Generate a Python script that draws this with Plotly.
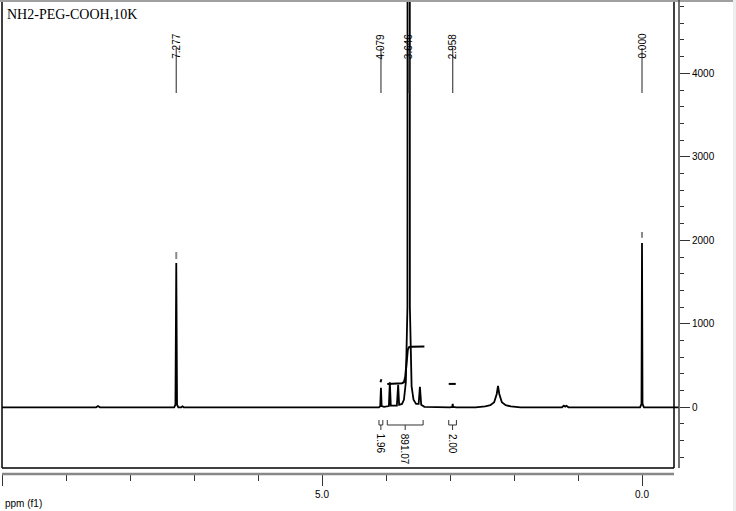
import plotly.graph_objects as go

# ---------------- data ----------------
title_text = "NH2-PEG-COOH,10K"

spec_ppm = [10.0, 8.53, 8.50, 8.47, 7.31, 7.29, 7.277, 7.265, 7.245, 7.20, 7.18, 7.16,
            4.11, 4.09, 4.079, 4.068, 4.03, 3.955, 3.94, 3.925, 3.83, 3.81, 3.795,
            3.75, 3.72, 3.69, 3.665, 3.646, 3.627, 3.60, 3.57, 3.53, 3.49, 3.47, 3.45,
            3.40, 3.00, 2.965, 2.958, 2.951, 2.90, 2.60, 2.45, 2.37, 2.31, 2.27, 2.25,
            2.23, 2.19, 2.13, 2.05, 1.90, 1.25, 1.22, 1.20, 1.18, 1.15, 0.03, 0.008,
            0.0, -0.008, -0.03, -0.58]
spec_int = [0, 0, 15, 0, 0, 30, 1728, 30, 0, 0, 12, 0,
            0, 15, 235, 15, 5, 15, 300, 20, 20, 270, 30,
            40, 90, 300, 1200, 60000, 1200, 250, 90, 40, 40, 245, 30,
            5, 0, 5, 40, 5, 0, 0, 10, 25, 60, 160, 255,
            160, 60, 25, 10, 0, 0, 20, 8, 18, 0, 0, 40,
            1967, 40, 0, 0]

peak_labels = [7.277, 4.079, 3.646, 2.958, 0.000]

# peak-pick markers above peaks
pick_ppm = [7.277, 0.000]
pick_low = [1775, 2030]
pick_high = [1860, 2100]

# integral curves
int_curves_x = [[4.085, 4.073],
                [3.98, 3.85, 3.75, 3.72, 3.70, 3.68, 3.66, 3.64, 3.60, 3.40],
                [3.02, 2.91]]
int_curves_y = [[300, 335],
                [280, 283, 288, 300, 360, 520, 690, 720, 725, 728],
                [280, 280]]

# integral regions and values
int_ranges = [(4.11, 4.05), (3.98, 3.42), (3.02, 2.90)]
int_values = ["1.96", "891.07", "2.00"]

x_tickvals = [10, 5, 0]
x_ticktext = ["", "5.0", "0.0"]
y_tickvals = [0, 1000, 2000, 3000, 4000]

# ---------------- figure ----------------
W, H = 736, 511
ML, MR, MT, MB = 2, 57, 0, 37
plot_w = W - ML - MR
plot_h = H - MT - MB

fig = go.Figure()

fig.add_trace(go.Scatter(x=spec_ppm, y=spec_int, mode="lines",
                         line=dict(color="black", width=1.8), hoverinfo="skip"))

ix, iy = [], []
for xs, ys in zip(int_curves_x, int_curves_y):
    ix += xs + [None]
    iy += ys + [None]
fig.add_trace(go.Scatter(x=ix, y=iy, mode="lines",
                         line=dict(color="black", width=2), hoverinfo="skip"))

mx, my = [], []
for p, lo, hi in zip(pick_ppm, pick_low, pick_high):
    mx += [p, p, None]
    my += [lo, hi, None]
fig.add_trace(go.Scatter(x=mx, y=my, mode="lines",
                         line=dict(color="#8a8a8a", width=2), hoverinfo="skip"))

bx, by = [], []
b_top, b_mid, b_bot = -152, -212, -272
for (a, b) in int_ranges:
    c = (a + b) / 2
    bx += [a, a, b, b, None, c, c, None]
    by += [b_top, b_mid, b_mid, b_top, None, b_mid, b_bot, None]
fig.add_trace(go.Scatter(x=bx, y=by, mode="lines",
                         line=dict(color="#333333", width=1), hoverinfo="skip"))

annotations = []
shapes = []


def py(px):
    return 1 - (px - MT) / plot_h


for p in peak_labels:
    annotations.append(dict(x=p, xref="x", y=py(32), yref="paper",
                            text=f"{p:.3f}", showarrow=False, textangle=-90,
                            font=dict(family="Liberation Sans, Arial", size=10, color="black")))
    shapes.append(dict(type="line", xref="x", yref="paper", x0=p, x1=p,
                       y0=py(48), y1=py(93), line=dict(color="#555555", width=1.3)))

for (a, b), v in zip(int_ranges, int_values):
    c = (a + b) / 2
    annotations.append(dict(x=c, xref="x", y=-290, yref="y", yanchor="top",
                            text=v, showarrow=False, textangle=90,
                            font=dict(family="Liberation Sans, Arial", size=10, color="black")))

annotations.append(dict(x=3 / plot_w, xref="paper", y=py(15), yref="paper",
                        xanchor="left", yanchor="middle", text=title_text, showarrow=False,
                        font=dict(family="Liberation Serif, Times New Roman, serif", size=14,
                                  color="black")))
annotations.append(dict(x=(3 - ML) / plot_w, xref="paper", y=py(503),
                        yref="paper", xanchor="left", yanchor="middle", text="ppm (f1)",
                        showarrow=False,
                        font=dict(family="Liberation Sans, Arial", size=10, color="black")))

box_right = (674 - ML) / plot_w
box_bottom = py(468)

shapes += [
    dict(type="line", xref="paper", yref="paper", x0=0, x1=0, y0=box_bottom, y1=1,
         line=dict(color="black", width=1.5)),
    dict(type="line", xref="paper", yref="paper", x0=box_right, x1=box_right,
         y0=box_bottom, y1=1, line=dict(color="black", width=1.5)),
    dict(type="line", xref="paper", yref="paper", x0=0, x1=box_right,
         y0=box_bottom, y1=box_bottom, line=dict(color="black", width=1.5)),
    dict(type="line", xref="paper", yref="paper", x0=-ML / plot_w, x1=(733 - ML) / plot_w,
         y0=1 - 1 / plot_h, y1=1 - 1 / plot_h, line=dict(color="#a0a0a0", width=2)),
    dict(type="line", xref="paper", yref="paper", x0=1, x1=1, y0=box_bottom, y1=1,
         line=dict(color="#444444", width=1.5)),
    dict(type="line", xref="paper", yref="paper", x0=0, x1=box_right, y0=0, y1=0,
         line=dict(color="#888888", width=2.5)),
    dict(type="rect", xref="paper", yref="paper", x0=(733 - ML) / plot_w, x1=(740 - ML) / plot_w,
         y0=-0.2, y1=1.05, fillcolor="#eeeeee", line=dict(width=0), layer="below"),
]

fig.update_layout(
    width=W, height=H,
    margin=dict(l=ML, r=MR, t=MT, b=MB),
    paper_bgcolor="white", plot_bgcolor="white",
    showlegend=False,
    annotations=annotations, shapes=shapes,
    xaxis=dict(range=[10.0, -0.578], showgrid=False, zeroline=False, showline=False,
               tickmode="array", tickvals=x_tickvals, ticktext=x_ticktext,
               ticks="outside", ticklen=11, tickwidth=1.2, tickcolor="#333333",
               tickfont=dict(family="Liberation Sans, Arial", size=10, color="black"),
               minor=dict(tickmode="linear", tick0=0, dtick=1, ticks="outside",
                          ticklen=6, tickwidth=1.2, tickcolor="#333333", showgrid=False)),
    yaxis=dict(range=[-799, 4878], side="right", showgrid=False, zeroline=False,
               showline=False, tickmode="array", tickvals=y_tickvals,
               ticks="outside", ticklen=10, tickwidth=1.2, tickcolor="#333333",
               tickfont=dict(family="Liberation Sans, Arial", size=10, color="black"),
               minor=dict(tickmode="linear", tick0=0, dtick=200, ticks="outside",
                          ticklen=4, tickwidth=1.2, tickcolor="#333333", showgrid=False)),
)

fig.write_html("out.html", config={"displayModeBar": False},
               post_script="document.body.style.margin='0';document.body.style.overflow='hidden';")
